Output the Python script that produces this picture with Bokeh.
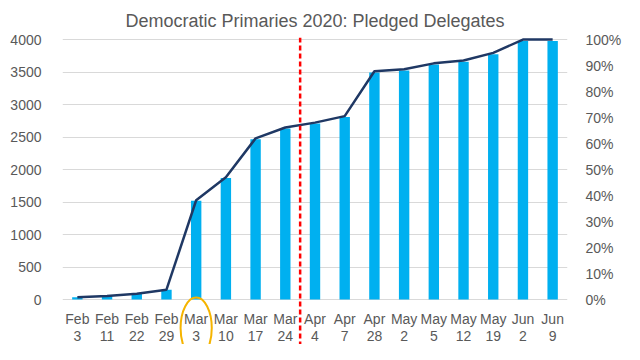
from bokeh.plotting import figure
from bokeh.models import Range1d, LinearAxis, FixedTicker, Span, NumeralTickFormatter
from bokeh.embed import file_html
from bokeh.resources import INLINE
from bokeh.core.properties import value

# ---- data ----
months = ["Feb", "Feb", "Feb", "Feb", "Mar", "Mar", "Mar", "Mar", "Apr", "Apr",
          "Apr", "May", "May", "May", "May", "Jun", "Jun"]
days = ["3", "11", "22", "29", "3", "10", "17", "24", "4", "7",
        "28", "2", "5", "12", "19", "2", "9"]
delegates = [35, 55, 90, 150, 1519, 1870, 2466, 2632, 2707, 2807,
             3494, 3524, 3614, 3659, 3774, 3979, 3979]
total_delegates = 3979
y_ticks = [0, 500, 1000, 1500, 2000, 2500, 3000, 3500, 4000]
pct_ticks = [0.0, 0.1, 0.2, 0.3, 0.4, 0.5, 0.6, 0.7, 0.8, 0.9, 1.0]
highlight_label = ("Mar", "3")
split_after_label = ("Mar", "24")
title_text = "Democratic Primaries 2020: Pledged Delegates"

# ---- derived ----
idx = list(range(len(delegates)))
pct = [d / total_delegates for d in delegates]
labels = list(zip(months, days))
hi = labels.index(highlight_label)
split = labels.index(split_after_label) + 0.5

FONT = "Liberation Sans"
GRAY = "#595959"
Y0, Y1 = -692, 4031
YMAX = 4000

p = figure(width=624, height=344, output_backend="svg", toolbar_location=None,
           x_range=Range1d(-0.5, len(idx) - 0.5), y_range=Range1d(Y0, Y1),
           x_axis_location=None, min_border_left=62, min_border_right=52,
           min_border_top=37, min_border_bottom=0)
p.extra_y_ranges = {"pct": Range1d(Y0 / YMAX, Y1 / YMAX)}
p.outline_line_color = None
p.background_fill_color = "white"

p.title.text = title_text
p.title.align = "center"
p.title.text_font = FONT
p.title.text_font_size = "18px"
p.title.text_font_style = "normal"
p.title.text_color = GRAY
p.title.standoff = 14
p.title.offset = 12

p.ygrid.ticker = FixedTicker(ticks=y_ticks)
p.ygrid.grid_line_color = "#D9D9D9"
p.xgrid.grid_line_color = None

ax = p.yaxis[0]
ax.ticker = FixedTicker(ticks=y_ticks)
ax.axis_line_color = None
ax.major_tick_line_color = None
ax.minor_tick_line_color = None
ax.major_label_standoff = 15
ax.major_label_text_font = FONT
ax.major_label_text_font_size = "14px"
ax.major_label_text_color = GRAY

rax = LinearAxis(y_range_name="pct", ticker=FixedTicker(ticks=pct_ticks),
                 formatter=NumeralTickFormatter(format="0%"))
rax.axis_line_color = None
rax.major_tick_line_color = None
rax.minor_tick_line_color = None
rax.major_label_standoff = 12
rax.major_label_text_font = FONT
rax.major_label_text_font_size = "14px"
rax.major_label_text_color = GRAY
p.add_layout(rax, "right")

p.vbar(x=idx, top=delegates, bottom=0, width=0.35, fill_color="#00B0F0", line_color=None)
p.line(x=idx, y=pct, y_range_name="pct", line_color="#1F3864", line_width=2.5)

p.text(x=idx, y=[-305] * len(idx), text=months, text_align="center", text_baseline="middle",
       text_font=value(FONT), text_font_size="14px", text_color=GRAY)
p.text(x=idx, y=[-560] * len(idx), text=days, text_align="center", text_baseline="middle",
       text_font=value(FONT), text_font_size="14px", text_color=GRAY)

p.ellipse(x=[hi], y=[-440], width=1.05, height=940, fill_color=None,
          line_color="#F5B400", line_width=2)

p.add_layout(Span(location=split, dimension="height", line_color="#FF0000",
                  line_dash="5 3", line_width=2.5))

open("out.html", "w").write(file_html(p, INLINE))
